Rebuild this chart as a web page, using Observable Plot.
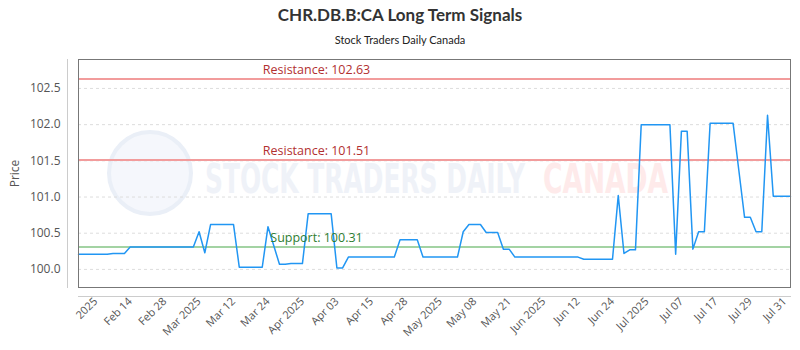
<!DOCTYPE html>
<html><head><meta charset="utf-8">
<script src="https://cdn.jsdelivr.net/npm/d3@7"></script>
<script src="https://cdn.jsdelivr.net/npm/@observablehq/plot@0.6"></script>
<style>
body{margin:0;background:#fff;width:800px;height:350px;overflow:hidden;font-family:Lato,sans-serif}
#title{position:absolute;top:4px;left:0;width:800px;text-align:center;font-size:17px;line-height:22px;font-weight:bold;color:#333}
#subtitle{position:absolute;top:33px;left:0;width:800px;text-align:center;font-size:11px;line-height:14px;color:#222}
#chart{position:absolute;top:50px;left:0}
</style></head><body>
<div id="title">CHR.DB.B:CA Long Term Signals</div>
<div id="subtitle">Stock Traders Daily Canada</div>
<div id="chart"></div>
<script>
const prices = [
  100.21,100.21,100.21,100.21,100.21,100.21,100.22,100.22,100.22,
  100.31,100.31,100.31,100.31,100.31,100.31,100.31,100.31,100.31,100.31,100.31,100.31,
  100.52,100.23,
  100.62,100.62,100.62,100.62,100.62,
  100.03,100.03,100.03,100.03,100.03,
  100.59,100.33,
  100.07,100.07,100.08,100.08,100.08,
  100.77,100.77,100.77,100.77,100.77,
  100.02,100.02,
  100.17,100.17,100.17,100.17,100.17,100.17,100.17,100.17,100.17,
  100.41,100.41,100.41,100.41,
  100.17,100.17,100.17,100.17,100.17,100.17,100.17,
  100.52,
  100.62,100.62,100.62,
  100.51,100.51,100.51,
  100.28,100.28,
  100.17,100.17,100.17,100.17,100.17,100.17,100.17,100.17,100.17,100.17,100.17,100.17,
  100.14,100.14,100.14,100.14,100.14,100.14,
  101.02,100.22,100.27,100.27,
  102.00,102.00,102.00,102.00,102.00,102.00,
  100.21,101.91,101.91,100.28,100.52,100.52,
  102.02,102.02,102.02,102.02,102.02,
  101.37,100.72,100.72,100.52,100.52,
  102.13,
  101.01,101.01,101.01,101.01
];
const tickIndex = [3,9,15,21,27,33,39,45,51,57,63,69,75,81,87,93,99,105,111,117,123];
const tickLabels = ["2025","Feb 14","Feb 28","Mar 2025","Mar 12","Mar 24","Apr 2025","Apr 03","Apr 15","Apr 28","May 2025","May 08","May 21","Jun 2025","Jun 12","Jun 24","Jul 2025","Jul 07","Jul 17","Jul 29","Jul 31"];
const yTicks = [100,100.5,101,101.5,102,102.5];
const resistance = [102.63, 101.51];
const support = [100.31];

const data = prices.map((p, i) => ({i, p}));

const chart = Plot.plot({
  width: 800, height: 300,
  marginTop: 9, marginBottom: 63, marginLeft: 78, marginRight: 10,
  style: {fontFamily: "'Open Sans', sans-serif", fontSize: "11px", color: "#555", background: "#fff"},
  x: {domain: [0, prices.length - 1]},
  y: {domain: [99.75, 102.9]},
  marks: [
    Plot.gridY(yTicks, {stroke: "#ddd", strokeOpacity: 1, strokeDasharray: "3,3"}),
    Plot.ruleY(resistance, {stroke: "#f29c9c", strokeWidth: 2}),
    Plot.ruleY(support, {stroke: "#a3d3a3", strokeWidth: 2}),
    Plot.line(data, {x: "i", y: "p", stroke: "#2196f3", strokeWidth: 1.5}),
    Plot.text(resistance, {y: d => d, frameAnchor: "left", textAnchor: "middle", dx: 238, dy: -9, text: d => `Resistance: ${d.toFixed(2)}`, fill: "#b23030", fontSize: 12.5}),
    Plot.text(support, {y: d => d, frameAnchor: "left", textAnchor: "middle", dx: 238, dy: -9, text: d => `Support: ${d.toFixed(2)}`, fill: "#2e7d32", fontSize: 12.5}),
    Plot.frame({stroke: "#777"}),
    Plot.frame({anchor: "left", dx: -11, stroke: "#ccc"}),
    Plot.frame({anchor: "bottom", dy: 9, stroke: "#ccc"}),
    Plot.axisY(yTicks, {tickSize: 0, tickPadding: 18, fontSize: 12, tickFormat: d3.format(".1f"), label: "Price", labelAnchor: "center", labelOffset: 68, labelArrow: "none"}),
    Plot.axisX(tickIndex, {tickSize: 0, tickRotate: -45, tickPadding: 12, tickFormat: d => tickLabels[tickIndex.indexOf(d)], label: null})
  ]
});
document.getElementById("chart").appendChild(chart);

// faint watermark (decoration)
const svg = d3.select(chart);
const wm = svg.insert("g", "g").attr("pointer-events", "none").attr("text-anchor", "start");
wm.append("circle").attr("cx", 150).attr("cy", 123).attr("r", 41)
  .attr("fill", "#f5f7fc").attr("stroke", "#eaeff7").attr("stroke-width", 4);
wm.append("text").attr("x", 205).attr("y", 143).text("STOCK TRADERS DAILY")
  .attr("text-anchor", "start")
  .attr("font-family", "'DejaVu Sans Condensed','Liberation Sans Narrow',sans-serif")
  .attr("font-weight", "bold").attr("font-size", 40).attr("fill", "#eff2f8")
  .attr("textLength", 320).attr("lengthAdjust", "spacingAndGlyphs");
wm.append("text").attr("x", 543).attr("y", 143).text("CANADA")
  .attr("text-anchor", "start")
  .attr("font-family", "'DejaVu Sans Condensed','Liberation Sans Narrow',sans-serif")
  .attr("font-weight", "bold").attr("font-size", 40).attr("fill", "#feeaea")
  .attr("textLength", 125).attr("lengthAdjust", "spacingAndGlyphs");
</script>
</body></html>
